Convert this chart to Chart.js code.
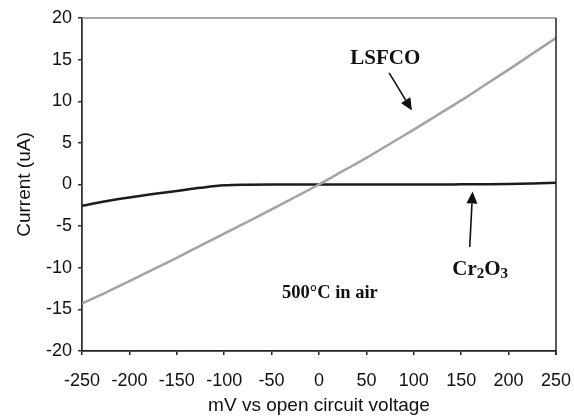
<!DOCTYPE html>
<html>
<head>
<meta charset="utf-8">
<script src="https://cdn.jsdelivr.net/npm/chart.js@4.4.1/dist/chart.umd.min.js"></script>
<style>
  html, body { margin: 0; padding: 0; background: #fff; }
  canvas { display: block; }
</style>
</head>
<body>
<canvas id="c" width="574" height="416"></canvas>
<script>
// ---- data ----
const voltageMv = [-250, -225, -200, -175, -150, -125, -100, -75, -50, -25, 0, 25, 50, 75, 100, 125, 150, 175, 200, 225, 250];
const lsfcoCurrent = [-14.3, -13.0, -11.6, -10.2, -8.8, -7.35, -5.9, -4.45, -3.0, -1.5, 0.0, 1.6, 3.2, 4.9, 6.6, 8.35, 10.1, 11.95, 13.8, 15.7, 17.6];
const cr2o3Current = [-2.55, -2.0, -1.55, -1.15, -0.78, -0.4, -0.1, -0.02, 0.0, 0.0, 0.0, 0.0, 0.0, 0.0, 0.0, 0.0, 0.02, 0.04, 0.07, 0.13, 0.22];
const seriesNames = ['LSFCO', 'Cr2O3'];
const xTickValues = [-250, -200, -150, -100, -50, 0, 50, 100, 150, 200, 250];
const yTickValues = [-20, -15, -10, -5, 0, 5, 10, 15, 20];

const toPoints = (xs, ys) => xs.map((x, i) => ({ x: x, y: ys[i] }));

// annotation placement (in data units)
const annotations = {
  lsfcoLabel: { x: 70, y: 15.1 },
  lsfcoArrow: { from: { x: 74, y: 13.4 }, to: { x: 98, y: 8.9 } },
  cr2o3Label: { x: 170, y: -10.0 },
  cr2o3Arrow: { from: { x: 159, y: -7.5 }, to: { x: 162, y: -0.85 } },
  conditionLabel: { x: 11.5, y: -13.1, text: '500°C in air' }
};

function drawArrow(ctx, x1, y1, x2, y2) {
  const ang = Math.atan2(y2 - y1, x2 - x1);
  const headLen = 12, headW = 5.5;
  const bx = x2 - headLen * Math.cos(ang), by = y2 - headLen * Math.sin(ang);
  ctx.save();
  ctx.strokeStyle = '#111';
  ctx.fillStyle = '#111';
  ctx.lineWidth = 1.6;
  ctx.beginPath();
  ctx.moveTo(x1, y1);
  ctx.lineTo(bx, by);
  ctx.stroke();
  ctx.beginPath();
  ctx.moveTo(x2, y2);
  ctx.lineTo(bx + headW * Math.sin(ang), by - headW * Math.cos(ang));
  ctx.lineTo(bx - headW * Math.sin(ang), by + headW * Math.cos(ang));
  ctx.closePath();
  ctx.fill();
  ctx.restore();
}

const annotationPlugin = {
  id: 'annotationPlugin',
  afterDraw(chart) {
    const ctx = chart.ctx;
    const xs = chart.scales.x, ys = chart.scales.y;
    const px = v => xs.getPixelForValue(v), py = v => ys.getPixelForValue(v);
    const ca = chart.chartArea;
    ctx.save();
    // frame: top (gray) and right (black)
    ctx.lineWidth = 1.5;
    ctx.strokeStyle = '#8c8c8c';
    ctx.beginPath(); ctx.moveTo(ca.left, ca.top); ctx.lineTo(ca.right, ca.top); ctx.stroke();
    ctx.strokeStyle = '#222';
    ctx.beginPath(); ctx.moveTo(ca.right, ca.top); ctx.lineTo(ca.right, ca.bottom + 4); ctx.stroke();

    const serif = '"Liberation Serif", "Times New Roman", serif';
    ctx.fillStyle = '#111';
    ctx.textBaseline = 'middle';
    ctx.textAlign = 'center';
    ctx.font = 'bold 21px ' + serif;
    ctx.fillText(seriesNames[0], px(annotations.lsfcoLabel.x), py(annotations.lsfcoLabel.y));

    // Cr2O3 with subscripts
    const cx = px(annotations.cr2o3Label.x), cy = py(annotations.cr2o3Label.y);
    const parts = [['Cr', false], ['2', true], ['O', false], ['3', true]];
    const big = 'bold 21px ' + serif, small = 'bold 15px ' + serif;
    let total = 0;
    parts.forEach(p => { ctx.font = p[1] ? small : big; total += ctx.measureText(p[0]).width; });
    let x = cx - total / 2;
    ctx.textAlign = 'left';
    ctx.textBaseline = 'alphabetic';
    const base = cy + 7;
    parts.forEach(p => {
      ctx.font = p[1] ? small : big;
      ctx.fillText(p[0], x, p[1] ? base + 3 : base);
      x += ctx.measureText(p[0]).width;
    });

    ctx.textAlign = 'center';
    ctx.textBaseline = 'middle';
    ctx.font = 'bold 18.5px ' + serif;
    ctx.fillText(annotations.conditionLabel.text, px(annotations.conditionLabel.x), py(annotations.conditionLabel.y));

    const a1 = annotations.lsfcoArrow, a2 = annotations.cr2o3Arrow;
    drawArrow(ctx, px(a1.from.x), py(a1.from.y), px(a1.to.x), py(a1.to.y));
    drawArrow(ctx, px(a2.from.x), py(a2.from.y), px(a2.to.x), py(a2.to.y));
    ctx.restore();
  }
};

const sans = '"Liberation Sans", Arial, sans-serif';

new Chart(document.getElementById('c'), {
  type: 'line',
  data: {
    datasets: [
      {
        label: seriesNames[0],
        data: toPoints(voltageMv, lsfcoCurrent),
        borderColor: '#a3a3a3',
        borderWidth: 2.5,
        pointRadius: 0,
        cubicInterpolationMode: 'monotone'
      },
      {
        label: seriesNames[1],
        data: toPoints(voltageMv, cr2o3Current),
        borderColor: '#1c1c1c',
        borderWidth: 2.5,
        pointRadius: 0,
        cubicInterpolationMode: 'monotone'
      }
    ]
  },
  options: {
    responsive: false,
    animation: false,
    events: [],
    layout: { padding: { left: 12, right: 18, top: 18, bottom: 0 } },
    plugins: { legend: { display: false }, tooltip: { enabled: false } },
    scales: {
      x: {
        type: 'linear',
        min: -250, max: 250,
        afterBuildTicks: s => { s.ticks = xTickValues.map(v => ({ value: v })); },
        afterFit: s => { s.height = 65; s.paddingLeft = 0; s.paddingRight = 0; },
        grid: { display: true, drawOnChartArea: false, drawTicks: true, tickLength: 4, color: '#222', lineWidth: 1.5 },
        border: { display: true, color: '#222', width: 1.8 },
        ticks: { color: '#111', font: { family: sans, size: 18 }, padding: 15, maxRotation: 0, autoSkip: false },
        title: { display: true, text: 'mV vs open circuit voltage', color: '#111', font: { family: sans, size: 19, lineHeight: 1 }, padding: { top: 0, bottom: 1 } }
      },
      y: {
        type: 'linear',
        min: -20, max: 20,
        afterBuildTicks: s => { s.ticks = yTickValues.map(v => ({ value: v })); },
        afterFit: s => { s.width = 70; s.paddingTop = 0; s.paddingBottom = 0; },
        grid: { display: true, drawOnChartArea: false, drawTicks: true, tickLength: 4, color: '#333', lineWidth: 1.5 },
        border: { display: true, color: '#333', width: 1.8 },
        ticks: { color: '#111', font: { family: sans, size: 18 }, padding: 6 },
        title: { display: true, text: 'Current (uA)', color: '#111', font: { family: sans, size: 19, lineHeight: 1 }, padding: { top: 3, bottom: 0 } }
      }
    }
  },
  plugins: [annotationPlugin]
});
</script>
</body>
</html>
